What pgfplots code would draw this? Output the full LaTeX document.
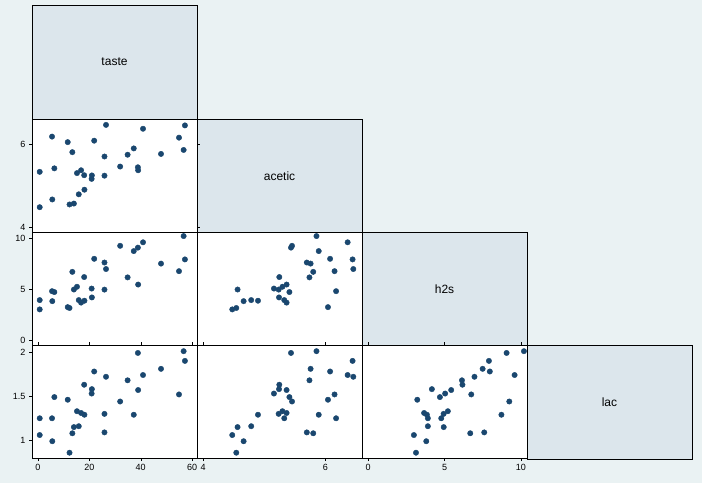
\documentclass[border=0pt]{standalone}
\usepackage{pgfplots}
\usepackage{pgfplotstable}
\pgfplotsset{compat=1.18}
\usepackage{fontspec}
\setmainfont{Liberation Sans}
\pgfplotstableread{
taste acetic h2s lac
12.3 4.543 3.135 0.86
20.9 5.159 5.043 1.53
39 5.366 5.438 1.57
47.9 5.759 7.496 1.81
5.6 4.663 3.807 0.99
25.9 5.697 7.601 1.09
37.3 5.892 8.726 1.29
21.9 6.078 7.966 1.78
18.1 4.898 3.850 1.29
21 5.242 4.174 1.58
34.9 5.740 6.142 1.68
57.2 6.446 7.908 1.90
0.7 4.477 2.996 1.06
25.9 5.236 4.942 1.30
54.9 6.151 6.752 1.52
40.9 6.365 9.588 1.74
15.9 4.787 3.912 1.16
6.4 5.412 4.700 1.49
18 5.247 6.174 1.63
38.9 5.438 9.064 1.99
14 4.564 4.949 1.15
15.2 5.298 5.220 1.33
32 5.455 9.242 1.44
56.7 5.855 10.199 2.01
16.8 5.366 3.664 1.31
11.6 6.043 3.219 1.46
26.5 6.458 6.962 1.72
0.7 5.328 3.912 1.25
13.4 5.802 6.685 1.08
5.5 6.176 4.787 1.25
}\data
\definecolor{bg}{HTML}{EAF2F3}
\definecolor{dg}{HTML}{DCE6EC}
\definecolor{mk}{HTML}{1A476F}
\pgfplotsset{cell/.style={scale only axis, width=165pt, height=113pt,
  axis line style={black, line width=0.9pt}, axis background/.style={fill=white},
  tick style={black}, tick align=outside, major tick length=3pt,
  xtick=\empty, ytick=\empty, tick label style={font=\small},
  /pgf/number format/assume math mode=true, anchor=north west}}
\newcommand{\pts}[2]{\addplot[only marks, mark=*, mark size=2.7pt, color=mk] table[x=#1,y=#2]{\data};}
\begin{document}
\begin{tikzpicture}
\useasboundingbox (0pt,0pt) rectangle (702pt,483pt);
\fill[bg] (0pt,0pt) rectangle (702pt,483pt);
\foreach \c/\t/\r in {0/taste/5,1/acetic/119,2/h2s/232,3/lac/345}{
  \pgfmathsetmacro\lx{32+165*\c}
  \pgfmathsetmacro\ty{483-\r}
  \fill[dg] (\lx pt,\ty pt) rectangle ++(165pt,-114pt);
  \draw[black,line width=0.9pt] (\lx pt,\ty pt) rectangle ++(165pt,-114pt);
  \node[font=\large] at (\lx pt+82.5pt,\ty pt-57pt) {\t};
}
\begin{axis}[cell, at={(32pt,364pt)}, xmin=-2.3,xmax=61.9, ymin=3.88,ymax=6.6, ytick={4,6}]
\pts{taste}{acetic}\end{axis}
\begin{axis}[cell, at={(32pt,251pt)}, xmin=-2.3,xmax=61.9, ymin=-0.5,ymax=10.6, ytick={0,5,10}]
\pts{taste}{h2s}\end{axis}
\begin{axis}[cell, at={(197pt,251pt)}, xmin=3.9,xmax=6.6, ymin=-0.5,ymax=10.6]
\pts{acetic}{h2s}\end{axis}
\begin{axis}[cell, at={(32pt,138pt)}, xmin=-2.3,xmax=61.9, ymin=0.8,ymax=2.08, ytick={1,1.5,2}, xtick={0,20,40,60}]
\pts{taste}{lac}\end{axis}
\begin{axis}[cell, at={(197pt,138pt)}, xmin=3.9,xmax=6.6, ymin=0.8,ymax=2.08, xtick={4,6}]
\pts{acetic}{lac}\end{axis}
\begin{axis}[cell, at={(362pt,138pt)}, xmin=-0.4,xmax=10.4, ymin=0.8,ymax=2.08, xtick={0,5,10}]
\pts{h2s}{lac}\end{axis}
\end{tikzpicture}
\end{document}
